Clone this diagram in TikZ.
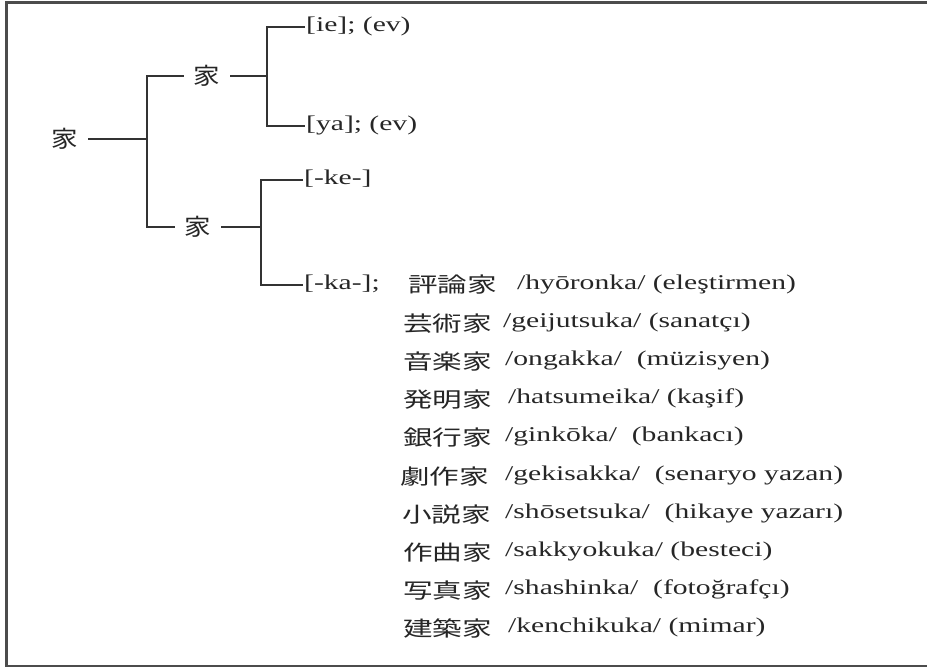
\documentclass[tikz,border=0pt]{standalone}
\usepackage{fontspec}
\setmainfont[FakeStretch=1.41]{Liberation Serif}
\newfontfamily\jpfont[FakeStretch=1.41]{Noto Sans CJK JP}
\newfontfamily\jptree[FakeStretch=1.15]{Noto Sans CJK JP}

\begin{document}
\begin{tikzpicture}
  [x=1pt,y=-1pt,
   kanji/.style={font=\jptree\fontsize{23}{26}\selectfont,text=black!85,inner xsep=10pt,inner ysep=0pt,text height=20pt,text depth=2.5pt},
   leaf/.style={anchor=west,font=\fontsize{21}{24}\selectfont,text=black!85,inner xsep=1pt,inner ysep=0pt,text height=14.5pt,text depth=4.8pt},
   word/.style={anchor=west,font=\jpfont\fontsize{21}{24}\selectfont,text=black!85,inner sep=0pt,text height=18pt,text depth=2pt},
   gloss/.style={leaf,inner xsep=0pt},
   branch/.style={-,line width=1.5pt,draw=black!80},
   frame/.style={line width=2.5pt,draw=black!70}]

  \useasboundingbox (0,0) rectangle (927,671);
  \draw[frame] (927,2.5) -- (6.5,2.5) -- (6.5,666) -- (927,666);

  % tree
  \node[kanji] (root) at (65,139) {家};
  \node[kanji] (up) at (207,76) {家};
  \node[kanji] (low) at (198,227) {家};

  \node[leaf] (ie) at (305,27) {[ie]; (ev)};
  \node[leaf] (ya) at (305,126) {[ya]; (ev)};
  \node[leaf] (ke) at (303,180) {[-ke-]};
  \node[leaf] (ka) at (303,285) {[-ka-];};

  \coordinate (f0) at (147,139);
  \coordinate (f1) at (267,76);
  \coordinate (f2) at (261,227);

  \draw[branch] (root) -- (f0);
  \draw[branch] (up.west) -| (f0) |- (low.west);
  \draw[branch] (up) -- (f1);
  \draw[branch] (ie.west) -| (f1) |- (ya.west);
  \draw[branch] (low) -- (f2);
  \draw[branch] (ke.west) -| (f2) |- (ka.west);

  % words with -ka
  \node[word] (w1) at (408,285) {評論家};
  \node[gloss] (g1) at (517,285) {/hyōronka/ (eleştirmen)};
  \node[word] (w2) at (403,323) {芸術家};
  \node[gloss] (g2) at (503,323) {/geijutsuka/ (sanatçı)};
  \node[word] (w3) at (403,361) {音楽家};
  \node[gloss] (g3) at (505,361) {/ongakka/\ \ (müzisyen)};
  \node[word] (w4) at (403,399) {発明家};
  \node[gloss] (g4) at (508,399) {/hatsumeika/ (kaşif)};
  \node[word] (w5) at (403,437) {銀行家};
  \node[gloss] (g5) at (505,437) {/ginkōka/\ \ (bankacı)};
  \node[word] (w6) at (400,476) {劇作家};
  \node[gloss] (g6) at (505,476) {/gekisakka/\ \ (senaryo yazan)};
  \node[word] (w7) at (402,514) {小説家};
  \node[gloss] (g7) at (505,514) {/shōsetsuka/\ \ (hikaye yazarı)};
  \node[word] (w8) at (403,552) {作曲家};
  \node[gloss] (g8) at (505,552) {/sakkyokuka/ (besteci)};
  \node[word] (w9) at (403,590) {写真家};
  \node[gloss] (g9) at (505,590) {/shashinka/\ \ (fotoğrafçı)};
  \node[word] (w10) at (403,628) {建築家};
  \node[gloss] (g10) at (508,628) {/kenchikuka/ (mimar)};

\end{tikzpicture}
\end{document}
